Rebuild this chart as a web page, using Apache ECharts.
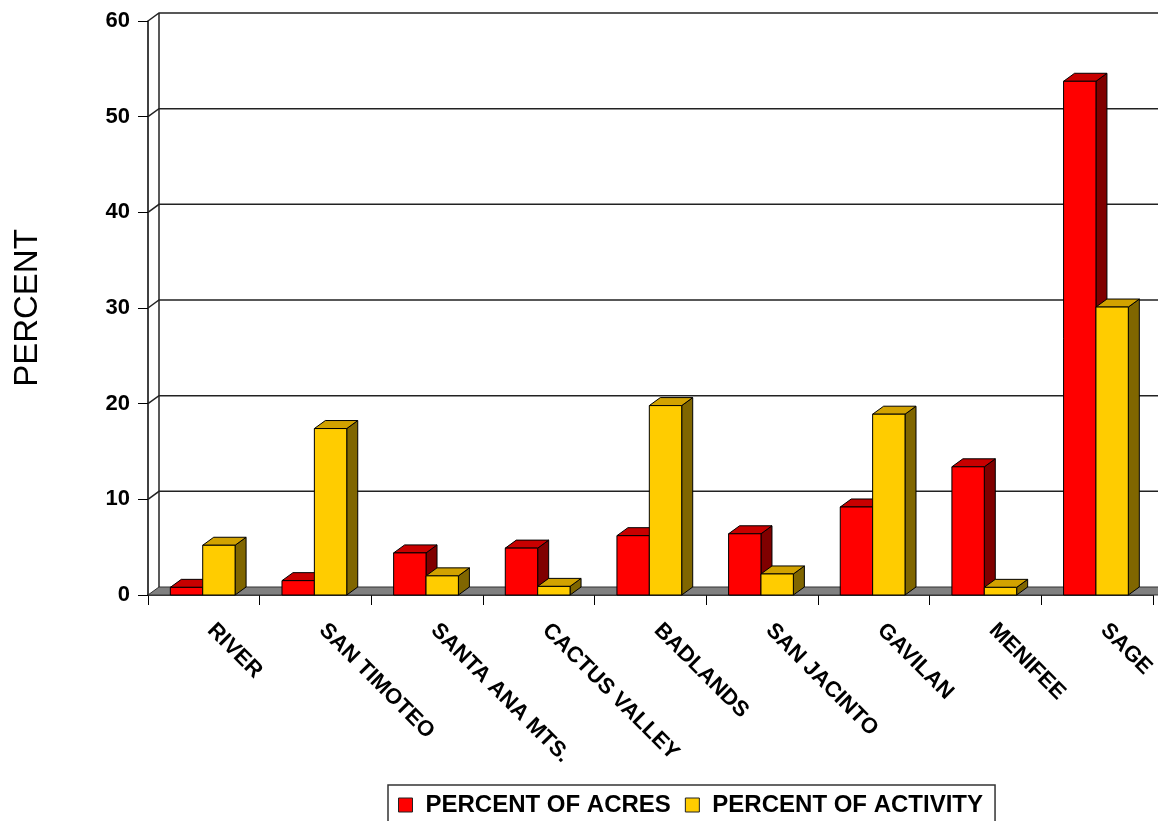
<!DOCTYPE html>
<html>
<head>
<meta charset="utf-8">
<script src="https://cdn.jsdelivr.net/npm/echarts@6/dist/echarts.min.js"></script>
<style>
html,body{margin:0;padding:0;background:#fff;}
#chart{width:1158px;height:821px;}
</style>
</head>
<body>
<div id="chart"></div>
<script>
const categories = ['RIVER','SAN TIMOTEO','SANTA ANA MTS.','CACTUS VALLEY','BADLANDS','SAN JACINTO','GAVILAN','MENIFEE','SAGE'];
const acres = [0.8, 1.5, 4.4, 4.9, 6.2, 6.4, 9.2, 13.4, 53.7];
const activity = [5.2, 17.4, 2.0, 0.9, 19.8, 2.2, 18.9, 0.8, 30.1];
const yTicks = [0, 10, 20, 30, 40, 50, 60];
const seriesNames = ['PERCENT OF ACRES', 'PERCENT OF ACTIVITY'];

const DX = 11, DY = -8;
const FONT = '"Liberation Sans", Arial, sans-serif';

function barRender(startFrac, endFrac, col) {
  return function (params, api) {
    const idx = api.value(0), v = api.value(1);
    const base = api.coord([idx, 0]);
    const top = api.coord([idx, v]);
    const band = api.size([1, 0])[0];
    const x0 = base[0] + startFrac * band, x1 = base[0] + endFrac * band;
    const yb = base[1], yt = top[1];
    return {
      type: 'group',
      children: [
        {type: 'polygon', shape: {points: [[x1, yb], [x1, yt], [x1 + DX, yt + DY], [x1 + DX, yb + DY]]},
         style: {fill: col.side, stroke: '#000', lineWidth: 1}},
        {type: 'polygon', shape: {points: [[x0, yt], [x0 + DX, yt + DY], [x1 + DX, yt + DY], [x1, yt]]},
         style: {fill: col.top, stroke: '#000', lineWidth: 1}},
        {type: 'rect', shape: {x: x0, y: yt, width: x1 - x0, height: yb - yt},
         style: {fill: col.front, stroke: '#000', lineWidth: 1}}
      ]
    };
  };
}

function wallRender(params, api) {
  const v = api.value(1);
  const cs = params.coordSys;
  const p = api.coord([0, v]);
  const left = cs.x, right = 1160;
  if (v === 0) {
    return {
      type: 'group',
      children: [
        {type: 'polygon', shape: {points: [[left, p[1]], [left + DX, p[1] + DY], [right, p[1] + DY], [right, p[1]]]},
         style: {fill: '#808080', stroke: '#333', lineWidth: 1}},
        {type: 'line', shape: {x1: left + DX, y1: p[1] + DY, x2: left + DX, y2: cs.y + DY},
         style: {stroke: '#222', lineWidth: 1.5}}
      ]
    };
  }
  return {
    type: 'polyline',
    shape: {points: [[left, p[1]], [left + DX, p[1] + DY], [right, p[1] + DY]]},
    style: {stroke: '#222', lineWidth: 1.5, fill: null}
  };
}

const chart = echarts.init(document.getElementById('chart'), null, {renderer: 'canvas'});
chart.setOption({
  animation: false,
  backgroundColor: '#fff',
  grid: {left: 148, right: 3, top: 21, bottom: 226, containLabel: false},
  legend: {
    data: seriesNames,
    left: 388, top: 785,
    orient: 'horizontal',
    padding: [8, 12, 12, 10],
    itemGap: 14,
    itemWidth: 14, itemHeight: 14,
    icon: 'rect',
    borderColor: '#333', borderWidth: 1.5,
    backgroundColor: '#fff',
    itemStyle: {borderColor: '#222', borderWidth: 1},
    textStyle: {fontFamily: FONT, fontSize: 24, fontWeight: 'bold', color: '#000', padding: [0, 0, 0, 8]}
  },
  xAxis: {
    type: 'category',
    data: categories,
    axisLine: {show: true, lineStyle: {color: '#000', width: 1.5}},
    axisTick: {show: true, length: 10, lineStyle: {color: '#000', width: 1}},
    axisLabel: {
      rotate: -45, interval: 0, margin: 25,
      padding: [0, 0, 0, 10],
      fontFamily: FONT, fontSize: 22, fontWeight: 'bold', color: '#000'
    },
    splitLine: {show: false}
  },
  yAxis: {
    type: 'value',
    min: 0, max: 60, interval: 10,
    name: 'PERCENT',
    nameLocation: 'middle',
    nameRotate: 90,
    nameGap: 104,
    nameTextStyle: {fontFamily: FONT, fontSize: 33, color: '#000'},
    axisLine: {show: true, lineStyle: {color: '#000', width: 1.5}},
    axisTick: {show: true, length: 10, lineStyle: {color: '#000', width: 1}},
    axisLabel: {margin: 18, fontFamily: FONT, fontSize: 22, fontWeight: 'bold', color: '#000'},
    splitLine: {show: false}
  },
  series: [
    {
      type: 'custom', name: '__walls', silent: true, z: 1,
      data: yTicks.map(v => [0, v]),
      encode: {x: 0, y: 1},
      renderItem: wallRender
    },
    {
      type: 'custom', name: seriesNames[0], z: 3,
      itemStyle: {color: '#FF0000'},
      data: acres.map((v, i) => [i, v]),
      encode: {x: 0, y: 1},
      renderItem: barRender(-0.30, -0.01, {front: '#FF0000', top: '#C80000', side: '#800000'})
    },
    {
      type: 'custom', name: seriesNames[1], z: 4,
      itemStyle: {color: '#FFCC00'},
      data: activity.map((v, i) => [i, v]),
      encode: {x: 0, y: 1},
      renderItem: barRender(-0.01, 0.28, {front: '#FFCC00', top: '#D2A200', side: '#806600'})
    }
  ]
});
</script>
</body>
</html>
